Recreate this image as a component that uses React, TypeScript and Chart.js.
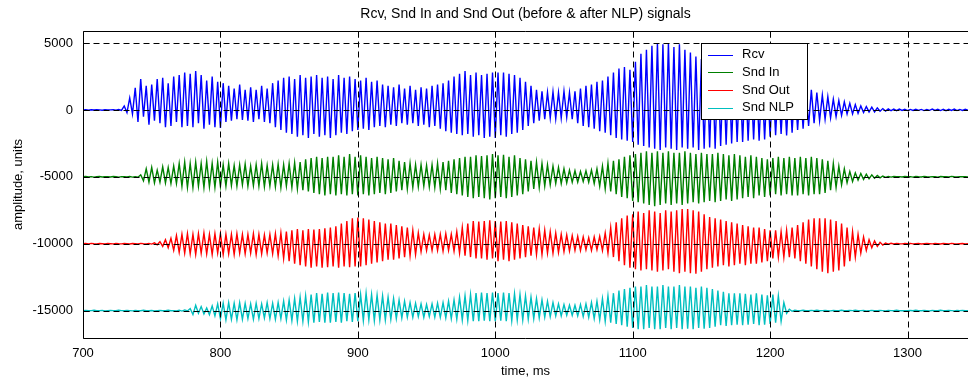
import React, { useEffect, useRef } from "react";
import { Chart, registerables } from "chart.js";

Chart.register(...registerables);

// Sampling grid of the recorded signals (ms)
const T_START = 700;
const T_STEP = 2;

const X_MIN = 700;
const X_MAX = 1344;
const Y_MIN = -17050;
const Y_MAX = 5900;
const X_TICKS = [700, 800, 900, 1000, 1100, 1200, 1300];
const Y_TICKS = [-15000, -10000, -5000, 0, 5000];

const SERIES_NAMES = ["Rcv", "Snd In", "Snd Out", "Snd NLP"];
const SERIES_COLORS = ["#0000ff", "#008000", "#ff0000", "#00bfbf"];
const SERIES_OFFSETS = [0, -5000, -10000, -15000];

// Peak readings (deviation from each trace's baseline), one per 2 ms from 700 ms
const RCV = [
  0, 20, -20, 10, -10, 20, 0, -20, 10, 0,
  0, 20, -20, 30, -30, 300, -200, 900, -300, 1650,
  -900, 2300, -500, 1800, -1100, 1900, -800, 2300, -1000, 2400,
  -1300, 2000, -1200, 2500, -900, 2600, -1300, 2800, -1200, 2700,
  -1300, 2900, -1000, 2600, -1400, 2200, -1100, 2500, -1300, 2100,
  -1350, 2000, -900, 1800, -800, 1600, -700, 1900, -750, 1500,
  -800, 1700, -900, 1500, -700, 1800, -900, 1600, -1000, 2000,
  -1300, 2200, -1500, 2400, -1700, 2500, -1800, 2300, -2000, 2600,
  -1900, 2400, -2100, 2500, -1800, 2600, -2000, 2400, -1900, 2500,
  -2100, 2300, -1900, 2600, -1700, 2400, -1800, 2500, -1600, 2300,
  -1500, 2200, -1400, 2400, -1500, 2100, -1300, 2200, -1200, 1900,
  -1300, 1800, -1100, 1700, -1200, 1900, -1000, 1600, -1100, 1800,
  -1000, 1500, -1200, 1700, -1100, 1600, -1300, 1800, -1200, 1900,
  -1400, 2000, -1600, 2200, -1700, 2500, -1800, 2700, -1900, 2900,
  -1800, 2600, -2000, 2800, -1900, 2600, -2100, 2700, -2000, 2800,
  -2100, 2800, -1900, 2800, -2000, 2700, -1800, 2600, -1700, 2400,
  -1500, 2100, -1200, 1800, -1000, 1500, -800, 1400, -700, 1300,
  -600, 1350, -650, 1300, -600, 1400, -550, 1300, -700, 1400,
  -1000, 1600, -1200, 1800, -1300, 1900, -1400, 2100, -1600, 2200,
  -1700, 2500, -1900, 2800, -2100, 3100, -2200, 3200, -2300, 3000,
  -2400, 3600, -2600, 4200, -2700, 4500, -2800, 4800, -2900, 5000,
  -3000, 4900, -2800, 5000, -2900, 4700, -3000, 4900, -2800, 4500,
  -2900, 4300, -2800, 4000, -3000, 3800, -2900, 3700, -2800, 3500,
  -2900, 3400, -2700, 3200, -2600, 3300, -2500, 3000, -2400, 2800,
  -2400, 2900, -2300, 2600, -2200, 2500, -2300, 2400, -2200, 2300,
  -2000, 2300, -1900, 2200, -1800, 2000, -1900, 2100, -1700, 1900,
  -1500, 1800, -1400, 1700, -1200, 1500, -1000, 1300, -800, 1100,
  -700, 1000, -600, 800, -500, 700, -400, 600, -300, 500,
  -300, 400, -250, 300, -200, 250, -150, 200, -150, 150,
  -100, 100, -80, 80, -60, 60, -50, 60, -40, 50,
  -50, 40, -40, 50, -30, 40, -50, 40, -30, 60,
  -40, 50, -50, 40, -60, 50, -40, 60, -50, 40,
  -40, 50, -30,
];

const SND_IN = [
  0, 20, -10, 10, -20, 0, 20, -10, 0, 10,
  -10, 20, 0, -20, 10, 0, -10, 20, -20, 10,
  -30, 150, -300, 600, -400, 700, -450, 500, -400, 750,
  -450, 700, -500, 800, -500, 1000, -700, 1100, -800, 1000,
  -800, 1100, -700, 1000, -800, 1150, -750, 1000, -800, 1100,
  -700, 900, -700, 1000, -650, 850, -700, 900, -600, 950,
  -700, 800, -650, 900, -700, 1000, -750, 850, -700, 900,
  -750, 950, -800, 900, -700, 1000, -800, 1050, -900, 1100,
  -1000, 1300, -1100, 1400, -1200, 1500, -1300, 1400, -1400, 1500,
  -1300, 1500, -1400, 1600, -1300, 1500, -1400, 1700, -1300, 1500,
  -1400, 1600, -1300, 1500, -1400, 1400, -1300, 1500, -1200, 1400,
  -1300, 1300, -1200, 1400, -1100, 1200, -1000, 1100, -900, 1000,
  -800, 900, -750, 900, -700, 850, -750, 900, -800, 1000,
  -900, 1100, -1000, 1200, -1200, 1300, -1300, 1400, -1400, 1500,
  -1500, 1500, -1600, 1600, -1500, 1550, -1600, 1600, -1700, 1700,
  -1600, 1600, -1500, 1650, -1600, 1500, -1500, 1600, -1400, 1400,
  -1300, 1300, -1100, 1200, -900, 1100, -800, 1000, -700, 900,
  -600, 800, -500, 700, -500, 600, -450, 500, -400, 450,
  -400, 400, -350, 450, -400, 500, -500, 600, -700, 800,
  -900, 1000, -1100, 1200, -1300, 1300, -1500, 1500, -1600, 1600,
  -1800, 1700, -1900, 1800, -2000, 1900, -2100, 1800, -2200, 1900,
  -2100, 1800, -2000, 1900, -2100, 1800, -2000, 1800, -2100, 1900,
  -2000, 1800, -1900, 1700, -2000, 1800, -1900, 1700, -1800, 1700,
  -1900, 1800, -1800, 1700, -1700, 1600, -1800, 1700, -1700, 1600,
  -1600, 1500, -1500, 1600, -1600, 1500, -1400, 1400, -1500, 1300,
  -1400, 1400, -1300, 1500, -1400, 1400, -1300, 1500, -1400, 1400,
  -1400, 1500, -1300, 1400, -1400, 1500, -1300, 1400, -1300, 1300,
  -1200, 1200, -1000, 1000, -800, 800, -600, 600, -450, 400,
  -350, 300, -250, 250, -200, 200, -150, 150, -100, 100,
  -80, 60, -40, 30, -20, 20, 0, 10, -10, 20,
  0, 10, -20, 20, 0, -10, 30, 0, -10, 10,
  0, -20, 20, 0, 10, -10, 30, 0, -10, 10,
  0, 10, -10,
];

const SND_OUT = [
  0, 10, -10, 20, 0, -10, 10, 0, -20, 10,
  0, -10, 20, 0, -10, 10, 0, -20, 10, 0,
  -10, 20, 0, -10, 20, -30, 60, -80, 150, -200,
  300, -300, 400, -500, 600, -650, 700, -700, 750, -750,
  700, -800, 750, -700, 800, -750, 700, -800, 750, -700,
  750, -800, 700, -750, 700, -800, 750, -700, 700, -750,
  700, -700, 750, -800, 700, -750, 650, -700, 700, -750,
  750, -900, 800, -1100, 900, -1300, 1000, -1500, 1100, -1600,
  1000, -1700, 1100, -1800, 1050, -1700, 1100, -1800, 1150, -1750,
  1200, -1700, 1300, -1800, 1500, -1700, 1700, -1750, 1900, -1700,
  1950, -1700, 1900, -1600, 1800, -1500, 1700, -1400, 1600, -1300,
  1500, -1200, 1500, -1200, 1400, -1100, 1300, -1000, 1200, -900,
  1000, -800, 800, -600, 700, -500, 650, -500, 700, -500,
  700, -550, 750, -500, 700, -550, 900, -700, 1200, -900,
  1500, -1000, 1700, -1100, 1650, -1100, 1700, -1200, 1750, -1100,
  1700, -1300, 1650, -1200, 1700, -1300, 1600, -1200, 1500, -1100,
  1400, -1000, 1300, -900, 1200, -800, 1100, -800, 1000, -700,
  900, -700, 800, -650, 700, -600, 650, -550, 600, -500,
  550, -500, 500, -450, 450, -500, 500, -450, 550, -500,
  800, -700, 1200, -1000, 1600, -1300, 1900, -1600, 2100, -1800,
  2200, -1900, 2400, -2000, 2300, -1900, 2500, -2000, 2400, -2100,
  2300, -2000, 2500, -1900, 2400, -2100, 2500, -2200, 2600, -2100,
  2600, -2200, 2500, -2250, 2400, -2100, 2200, -1900, 2000, -1800,
  1900, -1700, 1800, -1600, 1700, -1700, 1600, -1600, 1500, -1500,
  1400, -1600, 1300, -1500, 1200, -1500, 1200, -1400, 1100, -1300,
  1000, -1100, 1000, -1000, 900, -1000, 1000, -1000, 1200, -1100,
  1400, -1300, 1600, -1500, 1800, -1700, 1900, -1900, 1900, -2100,
  1900, -2200, 1800, -2100, 1700, -2000, 1500, -1700, 1200, -1300,
  900, -1000, 700, -700, 500, -500, 300, -300, 200, -200,
  100, -100, 50, -40, 30, -20, 20, 0, -10, 10,
  0, 20, -10, 0, 10, -20, 0, 10, 0, -10,
  10, 0, -20, 10, 0, -10, 20, 0, -10, 0,
  10, -10, 0,
];

const SND_NLP = [
  0, 10, -10, 0, 20, -10, 0, 10, -20, 0,
  10, 0, -10, 20, 0, -10, 10, 0, -20, 10,
  0, -10, 20, 0, -10, 10, -20, 0, 10, -10,
  0, 20, -10, 0, -20, 30, -40, 50, -30, 150,
  -300, 400, -200, 300, -250, 200, -300, 350, -400, 500,
  -600, 550, -700, 600, -650, 550, -700, 600, -650, 550,
  -600, 500, -650, 550, -600, 500, -550, 600, -600, 550,
  -650, 600, -600, 700, -700, 800, -750, 900, -800, 1000,
  -800, 1100, -850, 1200, -900, 1300, -850, 1250, -900, 1350,
  -900, 1300, -850, 1350, -900, 1300, -800, 1250, -850, 1300,
  -800, 1200, -750, 1300, -700, 1200, -750, 1150, -700, 1100,
  -700, 1000, -650, 900, -600, 800, -550, 700, -500, 600,
  -500, 550, -450, 500, -500, 450, -450, 500, -500, 550,
  -500, 600, -550, 700, -600, 800, -650, 1000, -700, 1100,
  -750, 1200, -800, 1300, -800, 1350, -750, 1300, -800, 1350,
  -800, 1300, -750, 1350, -800, 1300, -750, 1250, -700, 1200,
  -700, 1100, -650, 1000, -600, 900, -550, 800, -500, 700,
  -450, 600, -400, 500, -400, 450, -350, 400, -350, 400,
  -400, 450, -450, 500, -500, 600, -600, 700, -700, 900,
  -800, 1100, -900, 1300, -1000, 1500, -1100, 1600, -1200, 1700,
  -1300, 1800, -1400, 1800, -1400, 1900, -1300, 1800, -1400, 1800,
  -1400, 1900, -1300, 1800, -1400, 1800, -1300, 1900, -1400, 1800,
  -1350, 1800, -1400, 1700, -1300, 1800, -1350, 1700, -1300, 1600,
  -1200, 1500, -1100, 1400, -1150, 1300, -1100, 1300, -1050, 1300,
  -1100, 1250, -1050, 1200, -1000, 1300, -1100, 1200, -1050, 1150,
  -1000, 1200, -900, 1100, -800, 600, -200, 100, -50, 20,
  0, -10, 20, 0, -10, 10, 0, 20, -10, 0,
  10, 0, -20, 10, 0, -10, 20, 0, -10, 10,
  0, 20, -10, 0, 10, -20, 0, 10, 0, -10,
  10, 0, -20, 10, 0, -10, 20, 0, -10, 0,
  0, 10, -10, 20, 0, -10, 10, 0, -20, 10,
  0, -10, 20, 0, -10, 10, 0, -20, 10, 0,
  10, -10, 0,
];

const SERIES = [RCV, SND_IN, SND_OUT, SND_NLP];

const TITLE = "Rcv, Snd In and Snd Out (before & after NLP) signals";
const X_TITLE = "time, ms";
const Y_TITLE = "amplitude, units";

const FONT = "'Liberation Sans', Arial, Helvetica, sans-serif";

const overlayPlugin = {
  id: "matlabOverlay",
  afterDatasetsDraw(chart: any) {
    const { ctx, chartArea: a } = chart;
    const xs = chart.scales.x;
    const ys = chart.scales.y;
    ctx.save();
    const crisp = (v: number) => Math.round(v) + 0.5;
    const L = crisp(a.left);
    const T = crisp(a.top);
    const B = crisp(a.bottom);
    const R = a.right;

    // dashed grid drawn over the data
    ctx.strokeStyle = "#000";
    ctx.lineWidth = 1;
    ctx.setLineDash([6, 4]);
    X_TICKS.filter((v) => v !== X_MIN).forEach((v) => {
      const px = crisp(xs.getPixelForValue(v));
      ctx.beginPath();
      ctx.moveTo(px, T);
      ctx.lineTo(px, B);
      ctx.stroke();
    });
    Y_TICKS.forEach((v) => {
      const py = crisp(ys.getPixelForValue(v));
      ctx.beginPath();
      ctx.moveTo(L, py);
      ctx.lineTo(R, py);
      ctx.stroke();
    });
    ctx.setLineDash([]);

    // inward tick marks
    X_TICKS.forEach((v) => {
      const px = crisp(xs.getPixelForValue(v));
      ctx.beginPath();
      ctx.moveTo(px, T);
      ctx.lineTo(px, T + 6);
      ctx.moveTo(px, B);
      ctx.lineTo(px, B - 6);
      ctx.stroke();
    });
    Y_TICKS.forEach((v) => {
      const py = crisp(ys.getPixelForValue(v));
      ctx.beginPath();
      ctx.moveTo(L, py);
      ctx.lineTo(L + 6, py);
      ctx.stroke();
    });

    // axes box (left, top, bottom)
    ctx.beginPath();
    ctx.moveTo(R, T);
    ctx.lineTo(L, T);
    ctx.lineTo(L, B);
    ctx.lineTo(R, B);
    ctx.stroke();

    // title
    ctx.fillStyle = "#000";
    ctx.font = `14px ${FONT}`;
    ctx.textAlign = "center";
    ctx.textBaseline = "middle";
    ctx.fillText(TITLE, (a.left + a.right) / 2, 14);

    // legend
    const lx = 701.5;
    const ly = 43.5;
    const lw = 106;
    const lh = 76;
    ctx.fillStyle = "#fff";
    ctx.fillRect(lx, ly, lw, lh);
    ctx.strokeStyle = "#000";
    ctx.strokeRect(lx, ly, lw, lh);
    ctx.textAlign = "left";
    ctx.font = `13px ${FONT}`;
    SERIES_NAMES.forEach((name, i) => {
      const yy = 54.5 + i * 17.8;
      ctx.strokeStyle = SERIES_COLORS[i];
      ctx.beginPath();
      ctx.moveTo(708, Math.round(yy) + 0.5);
      ctx.lineTo(733, Math.round(yy) + 0.5);
      ctx.stroke();
      ctx.fillStyle = "#000";
      ctx.fillText(name, 742, yy);
    });
    ctx.restore();
  },
};

export default function App() {
  const ref = useRef<HTMLCanvasElement | null>(null);
  useEffect(() => {
    if (!ref.current) return;
    const datasets = SERIES.map((vals, i) => ({
      label: SERIES_NAMES[i],
      data: vals.map((v, k) => ({ x: T_START + k * T_STEP, y: SERIES_OFFSETS[i] + v })),
      borderColor: SERIES_COLORS[i],
      backgroundColor: SERIES_COLORS[i],
      borderWidth: 1.4,
      pointRadius: 0,
      tension: 0,
      fill: false,
      order: SERIES.length - i,
    }));
    const chart = new Chart(ref.current, {
      type: "line",
      data: { datasets },
      options: {
        animation: false,
        responsive: false,
        devicePixelRatio: 1,
        parsing: false,
        normalized: true,
        layout: { padding: { top: 31, right: 0, left: 0, bottom: 0 } },
        plugins: {
          legend: { display: false },
          title: { display: false },
          tooltip: { enabled: false },
        },
        scales: {
          x: {
            type: "linear",
            min: X_MIN,
            max: X_MAX,
            afterBuildTicks: (s: any) => {
              s.ticks = X_TICKS.map((v) => ({ value: v }));
            },
            afterFit: (s: any) => {
              s.height = 43;
            },
            grid: { display: false, drawTicks: false },
            border: { display: false },
            ticks: {
              color: "#000",
              padding: 8,
              maxRotation: 0,
              font: { family: FONT, size: 13 },
              callback: (v: any) => String(v),
            },
            title: {
              display: true,
              text: X_TITLE,
              color: "#000",
              font: { family: FONT, size: 13 },
              padding: { top: 0, bottom: 2 },
            },
          },
          y: {
            type: "linear",
            min: Y_MIN,
            max: Y_MAX,
            afterBuildTicks: (s: any) => {
              s.ticks = Y_TICKS.map((v) => ({ value: v }));
            },
            afterFit: (s: any) => {
              s.width = 83;
            },
            grid: { display: false, drawTicks: false },
            border: { display: false },
            ticks: {
              color: "#000",
              padding: 10,
              font: { family: FONT, size: 13 },
              callback: (v: any) => String(v),
            },
            title: {
              display: true,
              text: Y_TITLE,
              color: "#000",
              font: { family: FONT, size: 13 },
              padding: { top: 11, bottom: 0 },
            },
          },
        },
      },
      plugins: [overlayPlugin],
    });
    return () => chart.destroy();
  }, []);
  return (
    <div style={{ position: "absolute", left: 0, top: 0, width: 968, height: 381, background: "#fff" }}>
      <canvas ref={ref} width={968} height={381} style={{ width: 968, height: 381, display: "block" }} />
    </div>
  );
}
